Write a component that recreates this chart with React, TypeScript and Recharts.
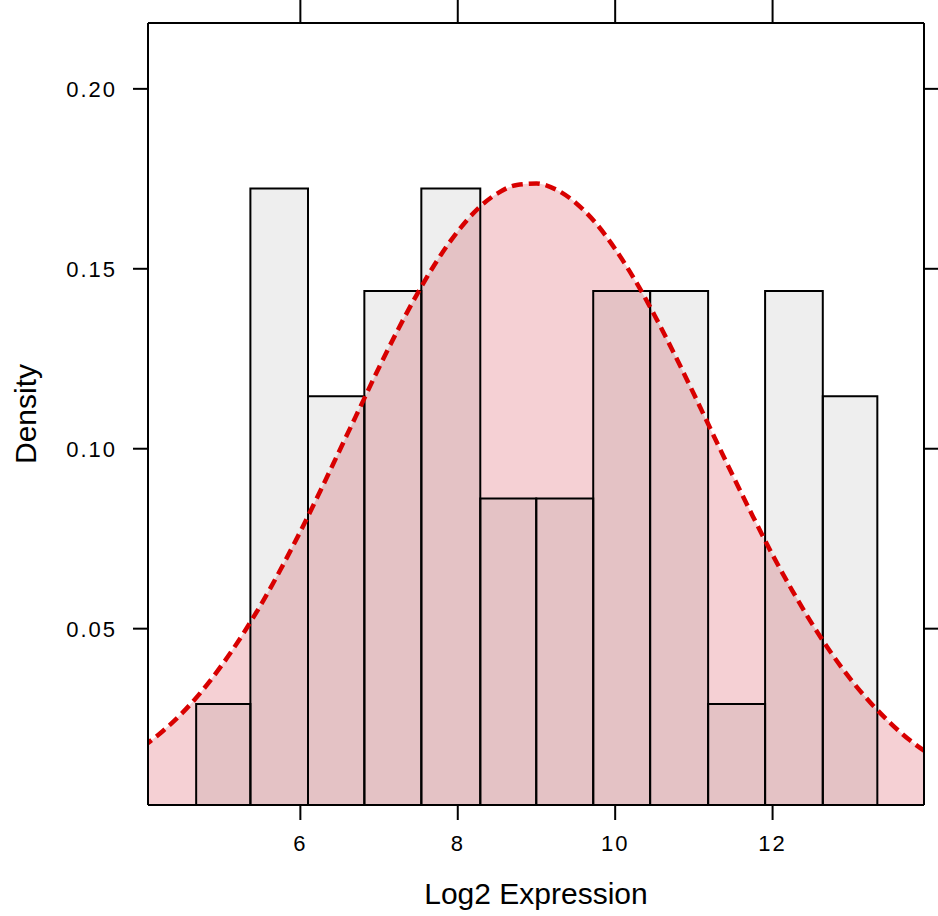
import {
  ComposedChart,
  Area,
  Line,
  XAxis,
  YAxis,
  ReferenceArea,
  Label,
} from "recharts";

const FONT = "'Liberation Sans', Arial, Helvetica, sans-serif";

// histogram bins (Log2 Expression) and their densities
const binEdges = [4.676, 5.365, 6.097, 6.813, 7.537, 8.286, 8.997, 9.721, 10.444, 11.181, 11.905, 12.638, 13.331];
const binDensity = [0.0291, 0.1723, 0.1146, 0.1438, 0.1723, 0.0862, 0.0862, 0.1438, 0.1438, 0.0291, 0.1438, 0.1146];

// fitted normal curve
const curveX = [
  4.0, 4.25, 4.5, 4.75, 5.0, 5.25, 5.5, 5.75, 6.0, 6.25, 6.5, 6.75, 7.0, 7.25,
  7.5, 7.75, 8.0, 8.25, 8.5, 8.75, 9.0, 9.25, 9.5, 9.75, 10.0, 10.25, 10.5,
  10.75, 11.0, 11.25, 11.5, 11.75, 12.0, 12.25, 12.5, 12.75, 13.0, 13.25, 13.5,
  13.75, 14.0,
];
const curveDensity = [
  0.0172, 0.0215, 0.0266, 0.0327, 0.0398, 0.0478, 0.0567, 0.0665, 0.077, 0.0881,
  0.0996, 0.1111, 0.1226, 0.1335, 0.1436, 0.1527, 0.1604, 0.1666, 0.1709,
  0.1733, 0.1737, 0.172, 0.1683, 0.1628, 0.1555, 0.1469, 0.1371, 0.1264,
  0.1152, 0.1037, 0.0923, 0.0812, 0.0705, 0.0606, 0.0514, 0.0431, 0.0357,
  0.0293, 0.0237, 0.0189, 0.015,
];

const xTicks = [6, 8, 10, 12];
const yTicks = [0.05, 0.1, 0.15, 0.2];
const xDomain = [4.064, 13.924];
const yDomain = [0.001, 0.2183];

const curveData = curveX.map((x, i) => ({ x, density: curveDensity[i] }));

const axisStroke = { stroke: "#000", strokeWidth: 2 };

function XTick(props: any) {
  const { x, y, payload } = props;
  return (
    <text x={x} y={y} dy="0.71em" textAnchor="middle" fill="#000" fontSize={22} fontFamily={FONT} letterSpacing={2}>
      {payload.value}
    </text>
  );
}

function YTick(props: any) {
  const { x, y, payload } = props;
  return (
    <text x={x} y={y} dy="0.36em" textAnchor="end" fill="#000" fontSize={22} fontFamily={FONT} letterSpacing={2}>
      {Number(payload.value).toFixed(2)}
    </text>
  );
}

export default function App() {
  return (
    <div style={{ position: "absolute", left: 0, top: 0, width: 938, height: 916, background: "#fff" }}>
      <ComposedChart width={938} height={916} data={curveData} margin={{ top: 0, right: 0, left: 0, bottom: 0 }}>
        <XAxis
          dataKey="x"
          type="number"
          domain={xDomain}
          allowDataOverflow
          ticks={xTicks}
          interval={0}
          height={111}
          tickSize={15}
          tickMargin={15}
          axisLine={axisStroke}
          tickLine={axisStroke}
          tick={<XTick />}
        >
          <Label
            content={(p: any) => {
              const vb = p.viewBox;
              return (
                <text x={vb.x + vb.width / 2} y={vb.y + 99} textAnchor="middle" fill="#000" fontSize={30} fontFamily={FONT}>
                  Log2 Expression
                </text>
              );
            }}
          />
        </XAxis>
        <XAxis
          xAxisId="top"
          orientation="top"
          dataKey="x"
          type="number"
          domain={xDomain}
          allowDataOverflow
          ticks={xTicks}
          interval={0}
          height={23}
          tickSize={23}
          axisLine={axisStroke}
          tickLine={axisStroke}
          tickFormatter={() => ""}
        />
        <YAxis
          type="number"
          domain={yDomain}
          allowDataOverflow
          ticks={yTicks}
          interval={0}
          width={148}
          tickSize={15}
          tickMargin={16}
          axisLine={axisStroke}
          tickLine={axisStroke}
          tick={<YTick />}
        >
          <Label
            content={(p: any) => {
              const vb = p.viewBox;
              const cx = vb.x + 25;
              const cy = vb.y + vb.height / 2;
              return (
                <text
                  x={cx}
                  y={cy}
                  transform={`rotate(-90 ${cx} ${cy})`}
                  textAnchor="middle"
                  dominantBaseline="central"
                  fill="#000"
                  fontSize={30}
                  fontFamily={FONT}
                >
                  Density
                </text>
              );
            }}
          />
        </YAxis>
        <YAxis
          yAxisId="right"
          orientation="right"
          type="number"
          domain={yDomain}
          allowDataOverflow
          ticks={yTicks}
          interval={0}
          width={14}
          tickSize={14}
          axisLine={axisStroke}
          tickLine={axisStroke}
          tickFormatter={() => ""}
        />

        <Area
          dataKey="density"
          type="monotone"
          stroke="none"
          fill="rgb(230,137,147)"
          fillOpacity={0.4}
          isAnimationActive={false}
        />

        {binDensity.map((d, i) => (
          <ReferenceArea
            key={i}
            x1={binEdges[i]}
            x2={binEdges[i + 1]}
            y1={0}
            y2={d}
            ifOverflow="hidden"
            fill="#000"
            fillOpacity={0.067}
            stroke="#000"
            strokeWidth={2}
            strokeOpacity={1}
          />
        ))}

        <Line
          dataKey="density"
          type="monotone"
          stroke="#d80000"
          strokeWidth={4.5}
          strokeDasharray="11 6"
          dot={false}
          activeDot={false}
          isAnimationActive={false}
        />
      </ComposedChart>
    </div>
  );
}
